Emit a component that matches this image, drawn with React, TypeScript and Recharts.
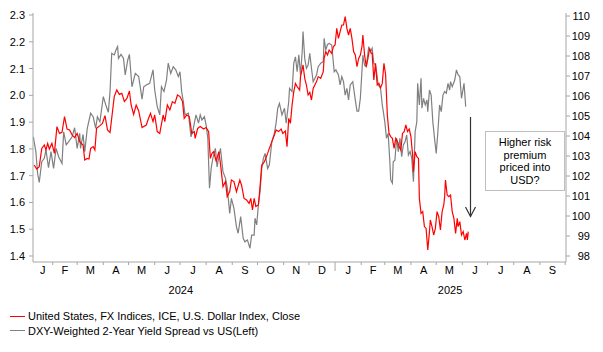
import React from 'react';
import { ComposedChart, Line, XAxis, YAxis } from 'recharts';

// x values: days since 1 Jan 2024
const dxyDays = [9, 12, 15, 18, 21, 23, 25, 27, 30, 33, 36, 39, 42, 45, 48, 51, 54, 57, 60, 63, 67, 69, 72, 74, 76, 79, 81, 83, 87, 90, 93, 96, 99, 102, 104, 107, 110, 113, 116, 119, 122, 124, 127, 130, 133, 137, 142, 144, 147, 150, 152, 155, 158, 162, 164, 167, 170, 173, 176, 179, 182, 185, 187, 190, 193, 196, 199, 200, 203, 206, 210, 213, 216, 218, 220, 222, 225, 228, 230, 233, 236, 238, 241, 243, 246, 249, 253, 255, 258, 261, 264, 266, 268, 270, 272, 275, 277, 279, 281, 283, 286, 288, 291, 294, 296, 299, 302, 304, 307, 309, 311, 313, 315, 317, 319, 321, 324, 325, 328, 330, 332, 334, 336, 338, 340, 344, 346, 349, 352, 353, 355, 357, 359, 362, 364, 366, 368, 370, 372, 374, 376, 378, 380, 382, 384, 386, 388, 390, 392, 394, 396, 398, 399, 401, 403, 405, 407, 409, 410, 412, 414, 416, 418, 420, 422, 424, 426, 428, 430, 432, 434, 436, 438, 440, 442, 444, 446, 448, 450, 452, 454, 456, 458, 459, 461, 463, 465, 466, 468, 470, 472, 474, 476, 478, 479, 481, 483, 485, 487, 489, 491, 493, 495, 496, 497, 499, 501, 503, 505, 507, 509, 511, 512, 514, 516, 518, 520, 522, 523, 524];
const dxyValues = [102.55, 102.35, 102.47, 103.38, 103.55, 103.3, 103.63, 103.35, 103.63, 103.13, 104.47, 104.13, 104.18, 104.97, 104.35, 104.3, 104.05, 103.92, 104.13, 103.72, 103.55, 102.8, 102.88, 102.85, 103.38, 103.47, 103.3, 104.38, 104.52, 104.63, 105.02, 104.3, 104.18, 105.25, 105.97, 106.3, 106.08, 106.13, 105.72, 105.88, 106.25, 105.55, 105.08, 105.55, 105.25, 104.42, 104.55, 104.8, 105.13, 104.72, 105.05, 104.22, 104.13, 105.05, 104.72, 105.55, 105.3, 105.72, 105.63, 106.05, 105.97, 105.72, 104.88, 105.05, 104.97, 104.13, 104.22, 103.88, 104.38, 104.47, 104.35, 104.42, 104.22, 102.88, 103.13, 103.22, 102.72, 103.22, 102.63, 101.47, 101.72, 100.97, 101.22, 101.8, 101.72, 101.22, 101.8, 101.55, 100.88, 100.8, 100.63, 100.88, 100.3, 100.88, 100.47, 100.55, 101.47, 102.55, 102.63, 102.8, 103.13, 103.38, 103.72, 104.05, 104.3, 104.22, 104.35, 104.13, 104.25, 103.47, 104.88, 104.63, 105.55, 106.22, 106.63, 106.47, 106.3, 106.97, 107.55, 106.88, 106.55, 106.05, 106.18, 105.8, 106.38, 106.72, 106.97, 106.88, 107.22, 107.88, 108.22, 108.05, 108.3, 108.13, 108.47, 108.55, 109.38, 108.88, 109.22, 109.55, 109.55, 109.97, 109.38, 109.05, 109.38, 108.88, 108.22, 108.05, 107.47, 107.88, 108.05, 108.5, 109.05, 108.05, 107.47, 107.88, 108.38, 108.13, 108.13, 106.8, 107.63, 106.55, 106.63, 106.42, 106.63, 107.63, 107.05, 105.05, 104.13, 103.97, 103.88, 103.38, 103.88, 103.72, 103.47, 103.3, 104.13, 104.22, 104.55, 104.22, 104.35, 103.97, 103.05, 102.22, 103.22, 102.97, 102.88, 100.88, 100.13, 100.22, 99.47, 99.38, 98.3, 99.22, 99.8, 99.47, 99.05, 99.38, 100.22, 99.97, 99.3, 100.22, 100.55, 100.97, 101.8, 101.05, 100.97, 101.05, 100.22, 99.88, 99.13, 99.88, 99.47, 99.72, 99.05, 99.22, 98.8, 99.13, 98.8, 99.22];

const spreadDays = [8, 11, 13, 15, 18, 21, 23, 26, 29, 32, 35, 38, 42, 44, 47, 50, 54, 57, 60, 63, 64, 67, 69, 72, 76, 79, 82, 84, 87, 91, 94, 97, 99, 101, 104, 106, 108, 109, 112, 115, 117, 120, 122, 125, 129, 133, 137, 139, 142, 146, 150, 152, 155, 158, 160, 163, 166, 168, 171, 174, 177, 180, 182, 184, 186, 188, 192, 195, 197, 201, 204, 206, 208, 211, 213, 215, 217, 219, 221, 224, 226, 230, 233, 236, 238, 241, 243, 246, 249, 251, 254, 257, 259, 262, 265, 267, 270, 271, 273, 275, 277, 279, 281, 283, 286, 288, 291, 294, 296, 298, 300, 303, 306, 308, 311, 312, 315, 317, 319, 321, 323, 325, 327, 328, 330, 332, 334, 336, 338, 340, 344, 346, 349, 352, 353, 355, 357, 359, 362, 365, 367, 370, 372, 374, 376, 378, 380, 382, 384, 387, 390, 392, 394, 396, 399, 401, 403, 406, 408, 410, 412, 414, 416, 417, 420, 422, 423, 425, 427, 429, 431, 432, 434, 435, 437, 439, 441, 443, 445, 447, 449, 451, 453, 455, 457, 459, 461, 463, 464, 466, 468, 469, 471, 473, 475, 476, 478, 480, 482, 484, 486, 488, 490, 492, 494, 496, 498, 500, 502, 503, 505, 508, 510, 512, 514, 516, 518, 519, 521];
const spreadValues = [1.845, 1.79, 1.709, 1.675, 1.752, 1.765, 1.796, 1.73, 1.79, 1.727, 1.802, 1.771, 1.746, 1.864, 1.815, 1.827, 1.845, 1.879, 1.802, 1.858, 1.802, 1.854, 1.79, 1.877, 1.933, 1.92, 1.877, 1.92, 1.901, 1.995, 1.964, 1.937, 2.014, 2.157, 2.151, 2.169, 2.182, 2.138, 2.153, 2.138, 2.076, 2.132, 2.153, 2.032, 2.082, 2.07, 1.986, 2.032, 2.039, 2.045, 2.095, 2.02, 1.958, 1.927, 2.032, 2.014, 2.057, 2.12, 2.082, 2.107, 2.095, 2.07, 2.088, 2.014, 1.976, 1.927, 1.933, 1.845, 1.864, 1.927, 1.896, 1.927, 1.908, 1.92, 1.889, 1.84, 1.653, 1.727, 1.765, 1.802, 1.733, 1.802, 1.715, 1.69, 1.659, 1.559, 1.615, 1.578, 1.509, 1.485, 1.547, 1.466, 1.453, 1.46, 1.429, 1.478, 1.478, 1.541, 1.516, 1.59, 1.64, 1.727, 1.765, 1.783, 1.727, 1.74, 1.827, 1.858, 1.896, 1.952, 1.97, 1.927, 1.952, 1.896, 1.976, 2.026, 2.014, 2.12, 2.144, 2.088, 2.151, 2.076, 2.163, 2.238, 2.138, 2.101, 2.113, 2.157, 2.101, 2.051, 2.076, 2.107, 2.12, 2.126, 2.213, 2.169, 2.19, 2.194, 2.188, 2.088, 2.095, 2.076, 2.039, 2.07, 2.051, 2.001, 2.026, 1.983, 2.039, 2.051, 1.983, 1.941, 1.941, 1.989, 2.15, 2.113, 2.107, 2.182, 2.163, 2.176, 2.12, 2.113, 2.07, 2.039, 2.026, 1.964, 1.945, 1.901, 1.84, 1.858, 1.752, 1.684, 1.672, 1.752, 1.758, 1.84, 1.79, 1.84, 1.771, 1.815, 1.827, 1.852, 1.777, 1.79, 1.765, 1.677, 1.864, 1.901, 2.045, 1.964, 2.064, 1.952, 1.989, 1.964, 1.983, 1.939, 2.02, 2.001, 1.901, 1.84, 1.783, 1.864, 1.964, 1.939, 2.001, 2.014, 2.008, 2.045, 2.02, 2.051, 2.032, 2.057, 2.095, 2.076, 2.07, 1.989, 2.026, 2.045, 1.958];

const leftTicks = [1.4, 1.5, 1.6, 1.7, 1.8, 1.9, 2.0, 2.1, 2.2, 2.3];
const rightTicks = [98, 99, 100, 101, 102, 103, 104, 105, 106, 107, 108, 109, 110];
const monthLetters = ['J', 'F', 'M', 'A', 'M', 'J', 'J', 'A', 'S', 'O', 'N', 'D', 'J', 'F', 'M', 'A', 'M', 'J', 'J', 'A', 'S'];
const monthStarts = [0, 31, 60, 91, 121, 152, 182, 213, 244, 274, 305, 335, 366, 397, 425, 456, 486, 517, 547, 578, 609, 639];
const years = ['2024', '2025'];
const yearCentres = [183, 502.5];
const xDomain: [number, number] = [7.6, 640];
const leftDomain: [number, number] = [1.3776, 2.3075];
const rightDomain: [number, number] = [97.7, 110.15];

const legendItems = [
  { name: 'United States, FX Indices, ICE, U.S. Dollar Index, Close', color: '#ff0000' },
  { name: 'DXY-Weighted 2-Year Yield Spread vs US(Left)', color: '#808080' },
];
const noteLines = ['Higher risk', 'premium', 'priced into', 'USD?'];

const dxyData = dxyDays.map((d, i) => ({ d, v: dxyValues[i] }));
const spreadData = spreadDays.map((d, i) => ({ d, v: spreadValues[i] }));

const boundaries = monthStarts.slice(1);
const monthMids = monthLetters.map((_, i) => (Math.max(monthStarts[i], xDomain[0]) + monthStarts[i + 1]) / 2);
const xTicks = [...boundaries, ...monthMids, ...yearCentres].sort((a, b) => a - b);

const FONT = '"Liberation Sans", Arial, sans-serif';
const AXIS = '#a6a6a6';

const XTick = (props: any) => {
  const { x, y, payload } = props;
  const v = payload.value;
  if (boundaries.includes(v)) {
    const long = v === 366;
    return <line x1={x} x2={x} y1={y} y2={y + (long ? 9 : 3)} stroke={AXIS} strokeWidth={1} />;
  }
  const mi = monthMids.indexOf(v);
  if (mi >= 0) {
    return (
      <text x={x} y={y + 12} textAnchor="middle" fontSize={11} fontFamily={FONT} fill="#000">
        {monthLetters[mi]}
      </text>
    );
  }
  const yi = yearCentres.indexOf(v);
  if (yi >= 0) {
    return (
      <text x={x} y={y + 32} textAnchor="middle" fontSize={11} fontFamily={FONT} fill="#000">
        {years[yi]}
      </text>
    );
  }
  return null;
};

const LeftTick = (props: any) => {
  const { x, y, payload } = props;
  return (
    <g>
      <line x1={x - 4} x2={x} y1={y} y2={y} stroke={AXIS} />
      <text x={x - 8} y={y + 4} textAnchor="end" fontSize={11} fontFamily={FONT} fill="#000">
        {Number(payload.value).toFixed(1)}
      </text>
    </g>
  );
};

const RightTick = (props: any) => {
  const { x, y, payload } = props;
  return (
    <g>
      <line x1={x} x2={x + 4} y1={y} y2={y} stroke={AXIS} />
      <text x={x + 24} y={y + 4} textAnchor="end" fontSize={11} fontFamily={FONT} fill="#000">
        {payload.value}
      </text>
    </g>
  );
};

export default function App() {
  return (
    <div style={{ position: 'absolute', left: 0, top: 0, width: 603, height: 352, background: '#fff', fontFamily: FONT }}>
      <ComposedChart width={603} height={352} margin={{ top: 13, right: 0, bottom: 0, left: 0 }}>
        <XAxis
          dataKey="d"
          type="number"
          domain={xDomain}
          allowDataOverflow
          ticks={xTicks}
          interval={0}
          tickLine={false}
          tickSize={0}
          tickMargin={0}
          height={90}
          axisLine={{ stroke: AXIS }}
          tick={<XTick />}
        />
        <YAxis
          yAxisId="left"
          orientation="left"
          width={33}
          domain={leftDomain}
          allowDataOverflow
          ticks={leftTicks}
          interval={0}
          tickLine={false}
          tickSize={0}
          tickMargin={0}
          axisLine={{ stroke: AXIS }}
          tick={<LeftTick />}
        />
        <YAxis
          yAxisId="right"
          orientation="right"
          width={37}
          domain={rightDomain}
          allowDataOverflow
          ticks={rightTicks}
          interval={0}
          tickLine={false}
          tickSize={0}
          tickMargin={0}
          axisLine={{ stroke: AXIS }}
          tick={<RightTick />}
        />
        <Line
          yAxisId="left"
          data={spreadData}
          dataKey="v"
          type="linear"
          stroke="#808080"
          strokeWidth={1.2}
          dot={false}
          isAnimationActive={false}
        />
        <Line
          yAxisId="right"
          data={dxyData}
          dataKey="v"
          type="linear"
          stroke="#ff0000"
          strokeWidth={1.2}
          dot={false}
          isAnimationActive={false}
        />
      </ComposedChart>

      <svg width={603} height={352} style={{ position: 'absolute', left: 0, top: 0, pointerEvents: 'none' }}>
        <line x1={470.5} x2={470.5} y1={117} y2={216.5} stroke="#333" strokeWidth={1.2} />
        <polyline points="465.5,207 470.5,216.5 475.5,207" fill="none" stroke="#333" strokeWidth={1.2} />
      </svg>

      <div
        style={{
          position: 'absolute',
          left: 485,
          top: 131,
          width: 80,
          height: 60,
          border: '1px solid #bfbfbf',
          background: '#fff',
          boxSizing: 'border-box',
          display: 'flex',
          flexDirection: 'column',
          justifyContent: 'center',
          alignItems: 'center',
          fontSize: 11,
          lineHeight: '12.5px',
          color: '#000',
          textAlign: 'center',
        }}
      >
        {noteLines.map((t) => (
          <div key={t}>{t}</div>
        ))}
      </div>

      <div style={{ position: 'absolute', left: 10, top: 309, fontSize: 11, color: '#000' }}>
        {legendItems.map((it) => (
          <div key={it.name} style={{ display: 'flex', alignItems: 'center', height: 14.5 }}>
            <span style={{ display: 'inline-block', width: 15, height: 0, borderTop: `1.5px solid ${it.color}`, marginRight: 3 }} />
            <span>{it.name}</span>
          </div>
        ))}
      </div>
    </div>
  );
}
